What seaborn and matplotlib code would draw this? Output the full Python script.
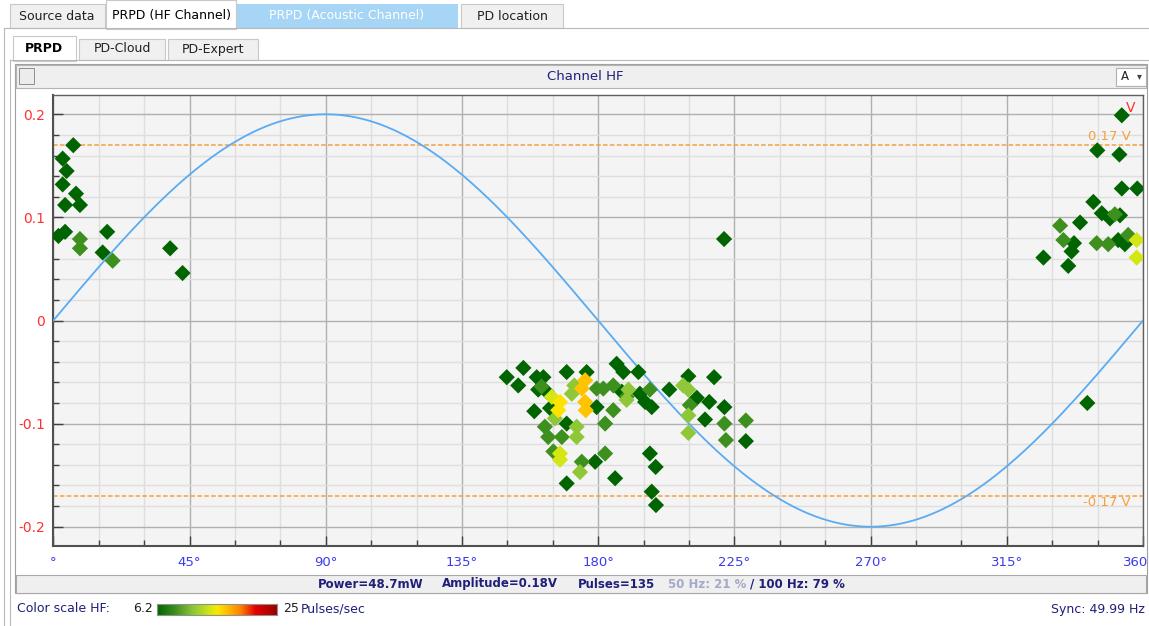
import numpy as np
import pandas as pd
import seaborn as sns
import matplotlib.pyplot as plt
from matplotlib.colors import LinearSegmentedColormap
from matplotlib.patches import Rectangle
from matplotlib.lines import Line2D
from matplotlib.ticker import MultipleLocator, FixedLocator
from matplotlib.transforms import ScaledTranslation

# ---- PD pulses: phase (deg), amplitude (V), pulse rate (pulses/sec) ----
# positive half-cycle cluster near 0 deg
phase_a = [6.6, 3.1, 4.4, 3.1, 7.5, 3.9, 8.8, 1.7, 3.9, 8.8, 8.8, 17.8, 16.3, 19.6, 38.6, 42.7]
amp_a = [0.170, 0.157, 0.145, 0.132, 0.123, 0.112, 0.112, 0.082, 0.086, 0.079, 0.070,
         0.086, 0.066, 0.058, 0.070, 0.046]
rate_a = [4, 4, 4, 4, 4, 4, 4, 4, 4, 9, 9, 4, 4, 9, 4, 4]

# cluster near 360 deg
phase_b = [353.0, 344.9, 352.2, 353.0, 358.1, 343.6, 346.4, 349.1, 350.7, 352.4, 339.2, 332.6,
           333.7, 337.2, 336.4, 327.1, 335.3, 344.7, 348.5, 351.8, 354.0, 355.1, 357.9, 357.9, 341.6]
amp_b = [0.199, 0.165, 0.161, 0.128, 0.128, 0.115, 0.104, 0.099, 0.103, 0.102, 0.095, 0.092,
         0.078, 0.075, 0.067, 0.061, 0.053, 0.075, 0.074, 0.078, 0.074, 0.083, 0.078, 0.061, -0.080]
rate_b = [4, 4, 4, 4, 4, 4, 4, 4, 9, 4, 4, 9, 9, 4, 4, 4, 4, 9, 9, 4, 4, 9, 14.5, 14.5, 4]

# negative half-cycle cluster around 180 deg
phase_c = [149.8, 155.3, 153.6, 159.7, 161.9, 161.3, 160.2, 163.0, 169.6, 176.2, 164.7, 167.4,
           166.8, 164.1, 158.9, 172.1, 171.3, 175.7, 174.6, 175.7, 175.9, 179.5, 181.7, 185.0,
           186.1, 188.3, 187.8, 189.4, 179.5, 185.0, 182.3, 165.7, 169.6, 162.4, 163.5, 168.0,
           172.9, 172.9, 165.2, 167.4, 167.4, 174.6, 174.0, 179.0, 182.3, 169.6, 185.6, 193.3,
           190.0, 189.4, 193.8, 195.5, 197.7, 197.1, 203.5, 209.8, 208.1, 209.8, 212.6, 210.3,
           209.8, 209.8, 215.3, 216.7, 218.3, 221.7, 221.7, 222.2, 228.8, 228.8, 197.1, 199.0,
           197.7, 199.1, 221.6]
amp_c = [-0.055, -0.046, -0.063, -0.055, -0.055, -0.064, -0.067, -0.069, -0.050, -0.050, -0.074,
         -0.079, -0.087, -0.085, -0.088, -0.063, -0.071, -0.058, -0.066, -0.079, -0.087, -0.066,
         -0.066, -0.063, -0.042, -0.050, -0.069, -0.074, -0.084, -0.087, -0.100, -0.095, -0.100,
         -0.103, -0.113, -0.113, -0.103, -0.113, -0.127, -0.129, -0.135, -0.137, -0.147, -0.137,
         -0.129, -0.158, -0.153, -0.050, -0.067, -0.077, -0.071, -0.079, -0.084, -0.067, -0.067,
         -0.054, -0.063, -0.067, -0.075, -0.082, -0.092, -0.109, -0.096, -0.079, -0.055, -0.084,
         -0.100, -0.116, -0.097, -0.117, -0.129, -0.142, -0.166, -0.179, 0.079]
rate_c = [4, 4, 4, 4, 4, 9, 4, 4, 4, 4, 14.5, 15.8, 15.8, 4, 4, 12, 12, 17, 17, 17, 17, 9, 9, 9,
          4, 4, 4, 9, 4, 9, 9, 12, 4, 9, 9, 9, 12, 12, 9, 14.5, 14.5, 9, 12, 4, 9, 4, 4, 4,
          12, 12, 4, 4, 4, 9, 4, 4, 12, 12, 4, 9, 12, 12, 4, 4, 4, 4, 9, 9, 9, 4, 4, 4, 4, 4, 4]

sync_amp = 0.2          # reference sine amplitude (V)
threshold = 0.17        # trigger level (V)
rate_min, rate_max = 6.2, 25
x_ticks = [0, 45, 90, 135, 180, 225, 270, 315, 360]
x_labels = ['°', '45°', '90°', '135°', '180°', '225°', '270°', '315°', '360']
y_ticks = [-0.2, -0.1, 0, 0.1, 0.2]
y_labels = ['-0.2', '-0.1', '0', '0.1', '0.2']

df = pd.DataFrame({'phase': phase_a + phase_b + phase_c,
                   'amp': amp_a + amp_b + amp_c,
                   'rate': rate_a + rate_b + rate_c}).sort_values('rate', kind='stable')

cmap = LinearSegmentedColormap.from_list('pd', [
    (0.0, '#006400'), (0.15, '#3d8f1e'), (0.3, '#8dc63a'), (0.44, '#d2e614'),
    (0.5, '#fbe800'), (0.57, '#ffc600'), (0.7, '#ff8000'), (0.82, '#e60000'), (1.0, '#9b0000')])

plt.rcParams['font.family'] = ['DejaVu Sans']
W, H = 1149, 626
fig = plt.figure(figsize=(W / 100, H / 100), dpi=100)
fig.patch.set_facecolor('white')
navy = '#1f1f7a'


def rect(x, y, w, h, fc, ec='none', lw=0.8, z=0):
    fig.add_artist(Rectangle((x / W, 1 - (y + h) / H), w / W, h / H, transform=fig.transFigure,
                             facecolor=fc, edgecolor=ec, linewidth=lw, zorder=z))


def hline(x0, x1, y, c='#b8b8b8', lw=0.8):
    fig.add_artist(Line2D([x0 / W, x1 / W], [1 - y / H, 1 - y / H], transform=fig.transFigure,
                          color=c, lw=lw))


def vline(x, y0, y1, c='#b8b8b8', lw=0.8):
    fig.add_artist(Line2D([x / W, x / W], [1 - y0 / H, 1 - y1 / H], transform=fig.transFigure,
                          color=c, lw=lw))


def label(x, y, s, **kw):
    kw.setdefault('va', 'center')
    kw.setdefault('fontsize', 9)
    fig.text(x / W, 1 - y / H, s, **kw)


# top tabs
hline(4, 1149, 28)
rect(10, 4, 95, 24, '#f0f0f0', '#c8c8c8')
label(57, 16, 'Source data', ha='center', color='#202020')
rect(106, 0, 130, 29, 'white', '#c8c8c8', z=1)
label(171, 16, 'PRPD (HF Channel)', ha='center', color='black', zorder=2)
rect(237, 4, 221, 24, '#a6d5f5')
label(347, 16, 'PRPD (Acoustic Channel)', ha='center', color='white')
rect(461, 4, 102, 24, '#f0f0f0', '#c8c8c8')
label(512, 16, 'PD location', ha='center', color='#202020')
vline(4, 28, 626)
vline(10, 60, 626)

# sub tabs
hline(10, 1149, 60)
rect(79, 39, 86, 21, '#f0f0f0', '#c8c8c8')
label(122, 49, 'PD-Cloud', ha='center', color='#202020')
rect(168, 39, 90, 21, '#f0f0f0', '#c8c8c8')
label(213, 49, 'PD-Expert', ha='center', color='#202020')
rect(13, 36, 63, 25, 'white', '#c8c8c8', z=1)
label(44, 48, 'PRPD', ha='center', color='black', fontweight='bold', zorder=2)

# chart frame, title bar, status bar
rect(15, 64, 1132, 529, 'white', '#a0a0a0')
rect(16, 65, 1130, 23, '#efefef', '#b4b4b4')
rect(19, 68, 15, 16, '#ececec', '#808080', lw=0.6)
label(585, 76, 'Channel HF', ha='center', color=navy, fontsize=9.5)
rect(1116, 68, 30, 18, 'white', '#b0b0b0')
label(1121, 77, 'A', color='#202020', fontsize=8.5)
label(1137, 76, '▾', color='#404040', fontsize=7)
rect(16, 575, 1130, 18, '#efefef', '#a8a8a8')
label(318, 584, 'Power=48.7mW', color=navy, fontweight='bold', fontsize=8.5)
label(442, 584, 'Amplitude=0.18V', color=navy, fontweight='bold', fontsize=8.5)
label(578, 584, 'Pulses=135', color=navy, fontweight='bold', fontsize=8.5)
label(668, 584, '50 Hz: 21 %', color='#a4a9c9', fontweight='bold', fontsize=8.5)
label(750, 584, '/ 100 Hz: 79 %', color=navy, fontweight='bold', fontsize=8.5)

# colour scale legend
label(17, 609, 'Color scale HF:', color=navy, fontsize=9)
label(133, 609, '6.2', color='#202020', fontsize=9)
cax = fig.add_axes([157 / W, 1 - 615 / H, 120 / W, 11 / H])
cax.imshow(np.linspace(0, 1, 256)[None, :], aspect='auto', cmap=cmap)
cax.set_xticks([])
cax.set_yticks([])
for s in cax.spines.values():
    s.set_color('#909090')
label(283, 609, '25', color='#202020', fontsize=9)
label(301, 609, 'Pulses/sec', color=navy, fontsize=9)
label(1145, 609, 'Sync: 49.99 Hz', ha='right', color=navy, fontsize=9)

# ---- PRPD plot ----
ax = fig.add_axes([53.3 / W, 80 / H, 1089.7 / W, 451 / H])
ax.set_facecolor('#f4f4f4')

wave_phase = np.arange(0, 361)
sns.lineplot(x=wave_phase, y=sync_amp * np.sin(np.radians(wave_phase)), ax=ax,
             color='#5aabf2', lw=1.3, zorder=3)
for lvl in (threshold, -threshold):
    ax.axhline(lvl, color='#f5a040', lw=1.1, ls=(0, (3, 1.5)), zorder=2)

sns.scatterplot(data=df, x='phase', y='amp', hue='rate', palette=cmap,
                hue_norm=(rate_min, rate_max), marker='D', s=68, linewidth=0,
                legend=False, ax=ax, zorder=4)

ax.set_xlim(0, 360)
ax.set_ylim(-0.2187, 0.2187)
ax.xaxis.set_major_locator(FixedLocator(x_ticks))
ax.xaxis.set_minor_locator(MultipleLocator(15))
ax.yaxis.set_major_locator(FixedLocator(y_ticks))
ax.yaxis.set_minor_locator(MultipleLocator(0.02))
ax.set_xticklabels(x_labels, color='#3a3aee', fontsize=9.5)
ax.set_yticklabels(y_labels, color='#ff3030', fontsize=10)
ax.tick_params(which='major', direction='in', length=7, width=1, color='#404040')
ax.tick_params(which='minor', direction='in', length=4, width=1, color='#404040')
ax.tick_params(axis='x', pad=7)
ax.tick_params(axis='y', pad=6)
ax.grid(which='major', color='#b0b0b0', lw=1)
ax.grid(which='minor', color='#dedede', lw=1)
ax.set_axisbelow(True)
ax.set_xlabel('')
ax.set_ylabel('')
for side in ('left', 'bottom'):
    ax.spines[side].set_color('#505050')
    ax.spines[side].set_linewidth(1.5)
for side in ('top', 'right'):
    ax.spines[side].set_color('#606060')
    ax.spines[side].set_linewidth(1)

# last phase label sits flush with the right edge, as in the instrument UI
last = ax.get_xticklabels()[-1]
last.set_horizontalalignment('right')
last.set_transform(last.get_transform() + ScaledTranslation(5 / 100, 0, fig.dpi_scale_trans))

label(1131, 108, 'V', color='#ff3030', fontsize=10, ha='center')
label(1109, 137, '0.17 V', color='#f5a040', fontsize=9.5, ha='center')
label(1107, 502, '-0.17 V', color='#f5a040', fontsize=9.5, ha='center')

fig.savefig('out.png', dpi=100)
